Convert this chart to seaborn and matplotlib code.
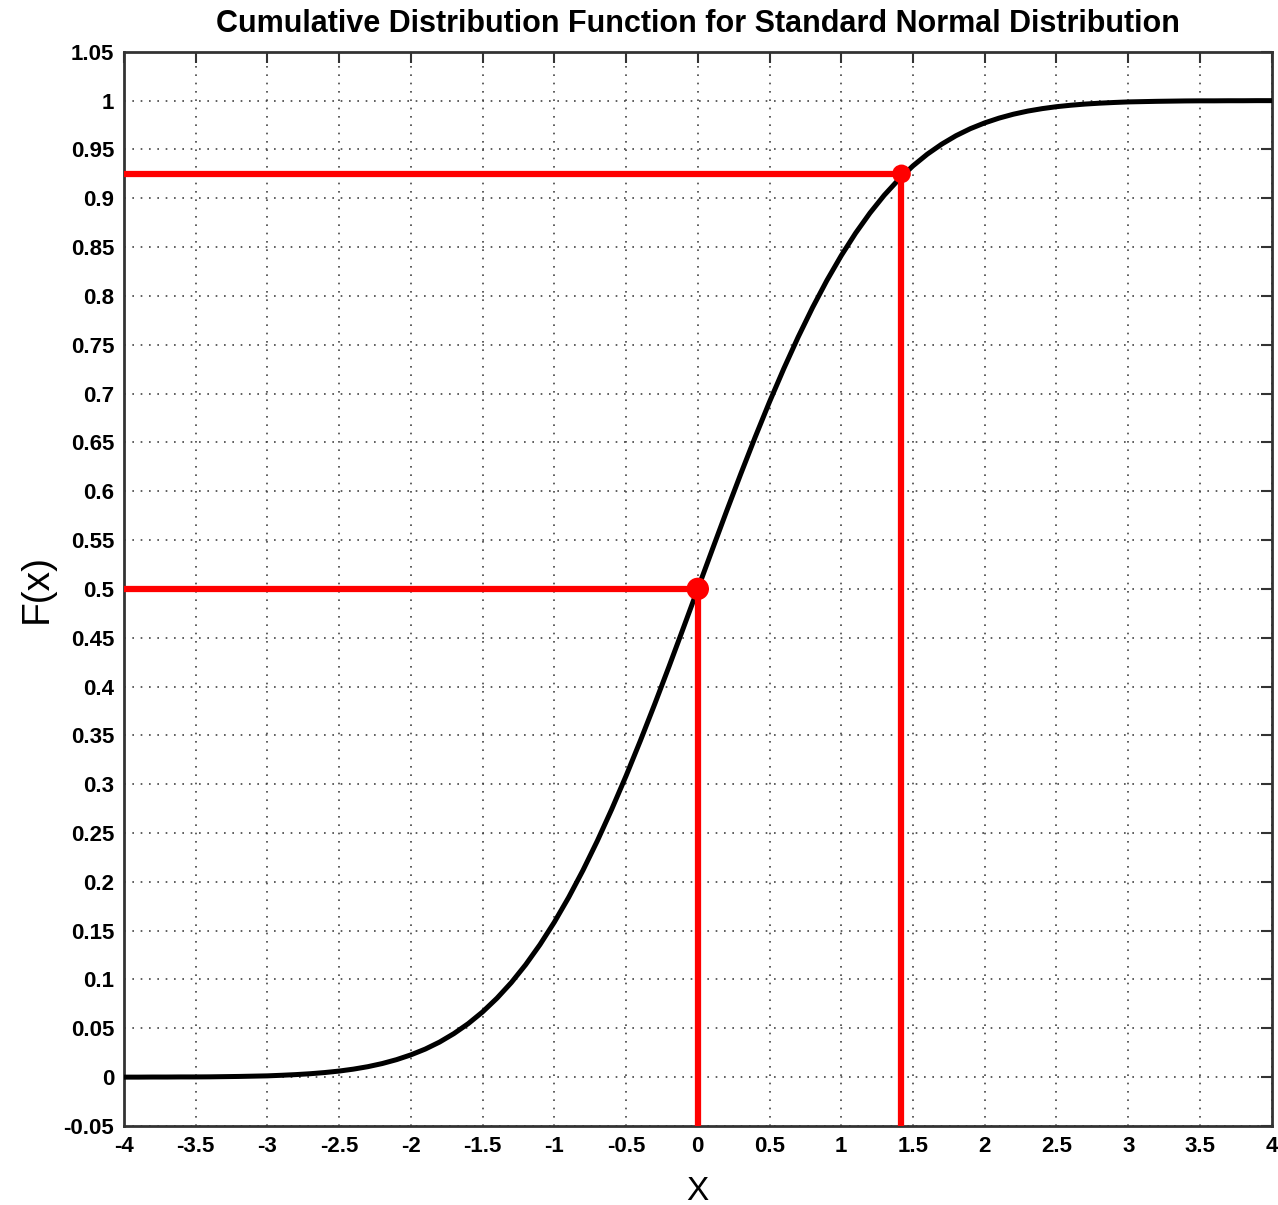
import numpy as np
import pandas as pd
import seaborn as sns
import matplotlib.pyplot as plt

# CDF values
xVals = [-4.0, -3.9, -3.8, -3.7, -3.6, -3.5, -3.4, -3.3, -3.2, -3.1,
         -3.0, -2.9, -2.8, -2.7, -2.6, -2.5, -2.4, -2.3, -2.2, -2.1,
         -2.0, -1.9, -1.8, -1.7, -1.6, -1.5, -1.4, -1.3, -1.2, -1.1,
         -1.0, -0.9, -0.8, -0.7, -0.6, -0.5, -0.4, -0.3, -0.2, -0.1,
         0.0, 0.1, 0.2, 0.3, 0.4, 0.5, 0.6, 0.7, 0.8, 0.9,
         1.0, 1.1, 1.2, 1.3, 1.4, 1.5, 1.6, 1.7, 1.8, 1.9,
         2.0, 2.1, 2.2, 2.3, 2.4, 2.5, 2.6, 2.7, 2.8, 2.9,
         3.0, 3.1, 3.2, 3.3, 3.4, 3.5, 3.6, 3.7, 3.8, 3.9, 4.0]
fVals = [0.0000, 0.0000, 0.0001, 0.0001, 0.0002, 0.0002, 0.0003, 0.0005, 0.0007, 0.0010,
         0.0013, 0.0019, 0.0026, 0.0035, 0.0047, 0.0062, 0.0082, 0.0107, 0.0139, 0.0179,
         0.0228, 0.0287, 0.0359, 0.0446, 0.0548, 0.0668, 0.0808, 0.0968, 0.1151, 0.1357,
         0.1587, 0.1841, 0.2119, 0.2420, 0.2743, 0.3085, 0.3446, 0.3821, 0.4207, 0.4602,
         0.5000, 0.5398, 0.5793, 0.6179, 0.6554, 0.6915, 0.7257, 0.7580, 0.7881, 0.8159,
         0.8413, 0.8643, 0.8849, 0.9032, 0.9192, 0.9332, 0.9452, 0.9554, 0.9641, 0.9713,
         0.9772, 0.9821, 0.9861, 0.9893, 0.9918, 0.9938, 0.9953, 0.9965, 0.9974, 0.9981,
         0.9987, 0.9990, 0.9993, 0.9995, 0.9997, 0.9998, 0.9998, 0.9999, 0.9999, 1.0000, 1.0000]

# highlighted points
markX = [0.0, 1.42]
markY = [0.5, 0.925]

xTicks = [-4, -3.5, -3, -2.5, -2, -1.5, -1, -0.5, 0, 0.5, 1, 1.5, 2, 2.5, 3, 3.5, 4]
xTickLabels = ['-4', '-3.5', '-3', '-2.5', '-2', '-1.5', '-1', '-0.5', '0', '0.5',
               '1', '1.5', '2', '2.5', '3', '3.5', '4']
yTicks = [-0.05, 0, 0.05, 0.1, 0.15, 0.2, 0.25, 0.3, 0.35, 0.4, 0.45, 0.5, 0.55,
          0.6, 0.65, 0.7, 0.75, 0.8, 0.85, 0.9, 0.95, 1, 1.05]
yTickLabels = ['-0.05', '0', '0.05', '0.1', '0.15', '0.2', '0.25', '0.3', '0.35', '0.4',
               '0.45', '0.5', '0.55', '0.6', '0.65', '0.7', '0.75', '0.8', '0.85', '0.9',
               '0.95', '1', '1.05']

df = pd.DataFrame({'x': xVals, 'F': fVals})

sns.set_style('white')
plt.rcParams['font.family'] = ['Liberation Sans', 'DejaVu Sans']
plt.rcParams['text.color'] = 'black'
plt.rcParams['axes.labelcolor'] = 'black'

fig = plt.figure(figsize=(12.78, 12.05), dpi=100)
ax = fig.add_axes([0.097, 0.0656, 0.898, 0.8914])

sns.lineplot(data=df, x='x', y='F', color='black', linewidth=3.6, ax=ax, zorder=3)

# red guide lines
for mx, my in zip(markX, markY):
    ax.plot([-4, mx], [my, my], color='red', linewidth=4.5, solid_capstyle='butt', zorder=4)
    ax.plot([mx, mx], [-0.05, my], color='red', linewidth=4.5, solid_capstyle='round', zorder=4)
ax.scatter(markX, markY, s=[260, 180], color='red', zorder=5, linewidths=0)

ax.set_xlim(-4, 4)
ax.set_ylim(-0.05, 1.05)
ax.set_xticks(xTicks)
ax.set_yticks(yTicks)
ax.set_xticklabels(xTickLabels, fontsize=16, fontweight='bold', color='black')
ax.set_yticklabels(yTickLabels, fontsize=16, fontweight='bold', color='black')
ax.tick_params(axis='both', direction='in', length=8, width=1.5, color='#333333',
               top=True, right=True, pad=7)
ax.grid(True, linestyle=(0, (1, 4)), color='#444444', linewidth=1.2)
for sp in ax.spines.values():
    sp.set_linewidth(2)
    sp.set_color('#333333')

ax.set_title('Cumulative Distribution Function for Standard Normal Distribution',
             fontsize=22, fontweight='bold', pad=14, color='black')
ax.set_xlabel('X', fontsize=24, labelpad=14)
ax.set_ylabel('F(x)', fontsize=28, labelpad=6)

plt.savefig('out.png', dpi=100)
